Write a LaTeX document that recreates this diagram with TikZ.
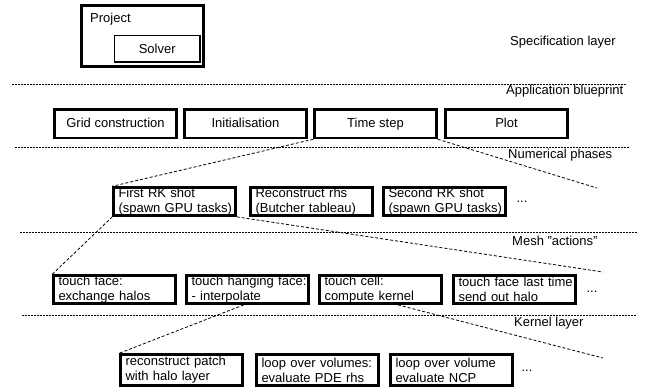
\documentclass[tikz,border=0pt]{standalone}
\usepackage{fontspec}
\setmainfont{Liberation Sans}
\usetikzlibrary{calc}
\begin{document}
\begin{tikzpicture}[x=1pt,y=-1pt,
  every node/.style={font=\fontsize{13pt}{15pt}\selectfont},
  cbox/.style={draw,line width=2.5pt,minimum width=122pt,minimum height=28.5pt,inner sep=0pt,text height=9.5pt,text depth=2.5pt,anchor=north west},
  lbox/.style={draw,line width=2.5pt,text width=112pt,inner xsep=5pt,inner ysep=0.5pt,minimum height=28pt,align=left,anchor=north west},
  sep/.style={line width=0.8pt,dash pattern=on 1.5pt off 1.5pt},
  conn/.style={line width=0.8pt,dash pattern=on 3pt off 2pt},
  lay/.style={anchor=west,inner sep=0pt}]
\useasboundingbox (0,0) rectangle (647,389);
% specification layer
\node[draw,line width=2.5pt,minimum width=122pt,minimum height=61pt,anchor=north west,inner sep=0pt] (proj) at (80.25,4.25) {};
\node[anchor=west,inner sep=0pt] (projt) at (90,19) {Project};
\node[draw,line width=1.5pt,minimum width=85.5pt,minimum height=26.5pt,anchor=north west,inner sep=0pt] (solver) at (113.75,34.75) {Solver};
\node[lay] (l1) at (510,42) {Specification layer};
\draw[sep] (12,84) -- (627,84);
\node[lay] (l2) at (506,91) {Application blueprint};
% application blueprint
\node[cbox] (grid) at (53.25,108.25) {Grid construction};
\node[cbox] (init) at (183.25,108.25) {Initialisation};
\node[cbox] (ts) at (313.25,108.25) {Time step};
\node[cbox] (plot) at (444.25,108.25) {Plot};
\draw[sep] (15,147) -- (630,147);
\node[lay] (l3) at (508,155) {Numerical phases};
% numerical phases
\node[lbox] (frk) at (112.25,186.25) {\mbox{First RK shot}\\\mbox{(spawn GPU tasks)}};
\node[lbox] (rec) at (249.25,186.25) {\mbox{Reconstruct rhs}\\\mbox{(Butcher tableau)}};
\node[lbox] (srk) at (382.25,186.25) {\mbox{Second RK shot}\\\mbox{(spawn GPU tasks)}};
\node[anchor=base,inner sep=0pt] (d3) at (522,202) {...};
\draw[sep] (20,232) -- (637,232);
\node[lay] (l4) at (512,241) {Mesh "actions"};
% mesh actions
\node[lbox] (tf) at (52.25,274.25) {\mbox{touch face:}\\\mbox{exchange halos}};
\node[lbox] (thf) at (185.25,274.25) {\mbox{touch hanging face:}\\\mbox{- interpolate}};
\node[lbox] (tc) at (318.25,274.25) {\mbox{touch cell:}\\\mbox{compute kernel}};
\node[lbox] (tfl) at (452.25,274.25) {\mbox{touch face last time}\\\mbox{send out halo}};
\node[anchor=base,inner sep=0pt] (d4) at (592,292) {...};
\draw[sep] (22,315) -- (637,315);
\node[lay] (l5) at (514,323) {Kernel layer};
% kernel layer
\node[lbox,minimum height=31pt] (rp) at (119.25,353.25) {\mbox{reconstruct patch}\\\mbox{with halo layer}};
\node[lbox,minimum height=31pt] (lv) at (255.25,353.25) {\mbox{loop over volumes:}\\\mbox{evaluate PDE rhs}};
\node[lbox,minimum height=31pt] (lvn) at (389.25,353.25) {\mbox{loop over volume}\\\mbox{evaluate NCP}};
\node[anchor=base,inner sep=0pt] (d5) at (527,371) {...};
% zoom connectors
\coordinate (e1) at (597,188);
\coordinate (e2) at (603,272);
\coordinate (e3) at (603,358);
\draw[conn] (ts.south west) -- (frk.north west);
\draw[conn] (ts.south east) -- (e1);
\draw[conn] (frk.south west) -- (tf.north west);
\draw[conn] (frk.south east) -- (e2);
\draw[conn] ($(thf.south west)!0.47!(thf.south east)$) -- (rp.north west);
\draw[conn] ($(tc.south west)!0.64!(tc.south east)$) -- (e3);
\end{tikzpicture}
\end{document}
